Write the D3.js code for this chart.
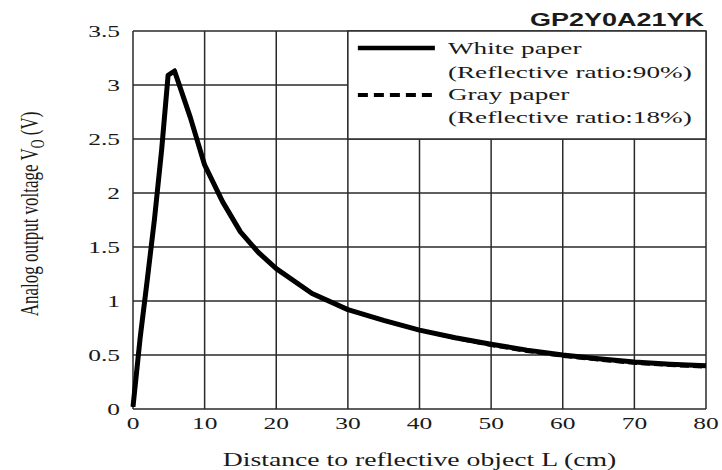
<!DOCTYPE html>
<html>
  <head>
    <meta charset="utf-8" />
    <title>GP2Y0A21YK</title>
    <style>
      body { margin: 0; background: #fff; }
      svg { display: block; }
      text { fill: #1a1a1a; }
    </style>
  </head>
  <body>
    <div id="plot"></div>

    <script src="https://cdn.jsdelivr.net/npm/d3@7"></script>
    <script>
      // values
      const whiteDist = [0, 1, 2, 3, 4, 4.9, 5.8, 8, 10, 12.5, 15, 17.5, 20, 25, 30, 35, 40, 45, 50, 55, 60, 65, 70, 75, 80];
      const whiteVolt = [0.02, 0.66, 1.2, 1.76, 2.4, 3.09, 3.13, 2.7, 2.26, 1.92, 1.64, 1.45, 1.3, 1.07, 0.92, 0.82, 0.73, 0.66, 0.6, 0.545, 0.5, 0.465, 0.435, 0.415, 0.4];
      const grayDist = [0, 1, 2, 3, 4, 4.9, 5.8, 8, 10, 12.5, 15, 17.5, 20, 25, 30, 35, 40, 45, 50, 55, 60, 65, 70, 75, 80];
      const grayVolt = [0.02, 0.66, 1.2, 1.76, 2.4, 3.09, 3.13, 2.7, 2.26, 1.92, 1.64, 1.45, 1.3, 1.07, 0.92, 0.82, 0.73, 0.655, 0.59, 0.535, 0.49, 0.455, 0.425, 0.405, 0.39];
      const xTicks = [0, 10, 20, 30, 40, 50, 60, 70, 80];
      const yTicks = [0, 0.5, 1, 1.5, 2, 2.5, 3, 3.5];
      const legendLabels = [
        ["White paper", "(Reflective ratio:90%)"],
        ["Gray paper", "(Reflective ratio:18%)"]
      ];

      const width = 722, height = 470;
      const margin = { top: 31, right: 16, bottom: 61, left: 133 };
      const sx = 1.5; // the scan is stretched sideways, so is the lettering

      const svg = d3.select("#plot").append("svg")
        .attr("width", width)
        .attr("height", height);

      const x = d3.scaleLinear().domain([0, 80]).range([margin.left, width - margin.right]);
      const y = d3.scaleLinear().domain([0, 3.5]).range([height - margin.bottom, margin.top]);

      // grid
      const grid = svg.append("g").attr("stroke", "#2a2a2a").attr("stroke-width", 1.5);
      grid.selectAll(".gx").data(xTicks).join("line")
        .attr("x1", d => x(d)).attr("x2", d => x(d))
        .attr("y1", y(0)).attr("y2", y(3.5));
      grid.selectAll(".gy").data(yTicks).join("line")
        .attr("x1", x(0)).attr("x2", x(80))
        .attr("y1", d => y(d)).attr("y2", d => y(d));

      // tick labels
      const tickFont = { family: "Liberation Serif", size: 17 };
      svg.append("g").selectAll("g").data(yTicks).join("g")
        .attr("transform", d => `translate(${x(0) - 13},${y(d) + 6}) scale(${sx},1)`)
        .append("text")
        .attr("text-anchor", "end")
        .attr("font-family", tickFont.family)
        .attr("font-size", tickFont.size)
        .text(d => d);
      svg.append("g").selectAll("g").data(xTicks).join("g")
        .attr("transform", d => `translate(${x(d)},${y(0) + 20}) scale(${sx},1)`)
        .append("text")
        .attr("text-anchor", "middle")
        .attr("font-family", tickFont.family)
        .attr("font-size", tickFont.size)
        .text(d => d);

      // curves
      const line = d3.line().x(d => x(d[0])).y(d => y(d[1]));
      const white = d3.zip(whiteDist, whiteVolt);
      const gray = d3.zip(grayDist, grayVolt);

      svg.append("path").datum(white)
        .attr("fill", "none")
        .attr("stroke", "#000")
        .attr("stroke-width", 5)
        .attr("stroke-linejoin", "round")
        .attr("d", line);
      svg.append("path").datum(gray)
        .attr("fill", "none")
        .attr("stroke", "#000")
        .attr("stroke-width", 3.5)
        .attr("stroke-dasharray", "9,4")
        .attr("d", line);

      // legend box over the top right corner
      const lg = svg.append("g");
      lg.append("rect")
        .attr("x", x(30)).attr("y", y(3.5))
        .attr("width", x(80) - x(30)).attr("height", y(2.5) - y(3.5))
        .attr("fill", "#fff")
        .attr("stroke", "#2a2a2a").attr("stroke-width", 1.5);
      const keyX0 = x(30) + 10, keyX1 = x(30) + 87;
      lg.append("line")
        .attr("x1", keyX0).attr("x2", keyX1).attr("y1", 48).attr("y2", 48)
        .attr("stroke", "#000").attr("stroke-width", 4.5);
      lg.append("line")
        .attr("x1", keyX0).attr("x2", keyX1).attr("y1", 95).attr("y2", 95)
        .attr("stroke", "#000").attr("stroke-width", 4)
        .attr("stroke-dasharray", "10,6");
      const lgBase = [[54, 78], [100, 123]];
      legendLabels.forEach((pair, i) => {
        pair.forEach((t, j) => {
          lg.append("g")
            .attr("transform", `translate(${keyX1 + 13},${lgBase[i][j]}) scale(${sx + 0.1},1)`)
            .append("text")
            .attr("font-family", "Liberation Serif")
            .attr("font-size", 17)
            .text(t);
        });
      });

      // title
      svg.append("g")
        .attr("transform", `translate(${x(80) - 2},26) scale(${sx},1)`)
        .append("text")
        .attr("text-anchor", "end")
        .attr("font-family", "Liberation Sans")
        .attr("font-weight", "bold")
        .attr("font-size", 18)
        .text("GP2Y0A21YK");

      // axis titles
      svg.append("g")
        .attr("transform", `translate(${(x(0) + x(80)) / 2 - 0},466) scale(${sx + 0.04},1)`)
        .append("text")
        .attr("text-anchor", "middle")
        .attr("font-family", "Liberation Serif")
        .attr("font-size", 18)
        .text("Distance to reflective object L (cm)");

      const yt = svg.append("g")
        .attr("transform", `translate(38,214) scale(${sx},1) rotate(-90)`)
        .append("text")
        .attr("text-anchor", "middle")
        .attr("font-family", "Liberation Serif")
        .attr("font-size", 17);
      yt.append("tspan").text("Analog output voltage V");
      yt.append("tspan").attr("font-size", 12).attr("dy", 4).text("O");
      yt.append("tspan").attr("dy", -4).text(" (V)");
    </script>
  </body>
</html>
